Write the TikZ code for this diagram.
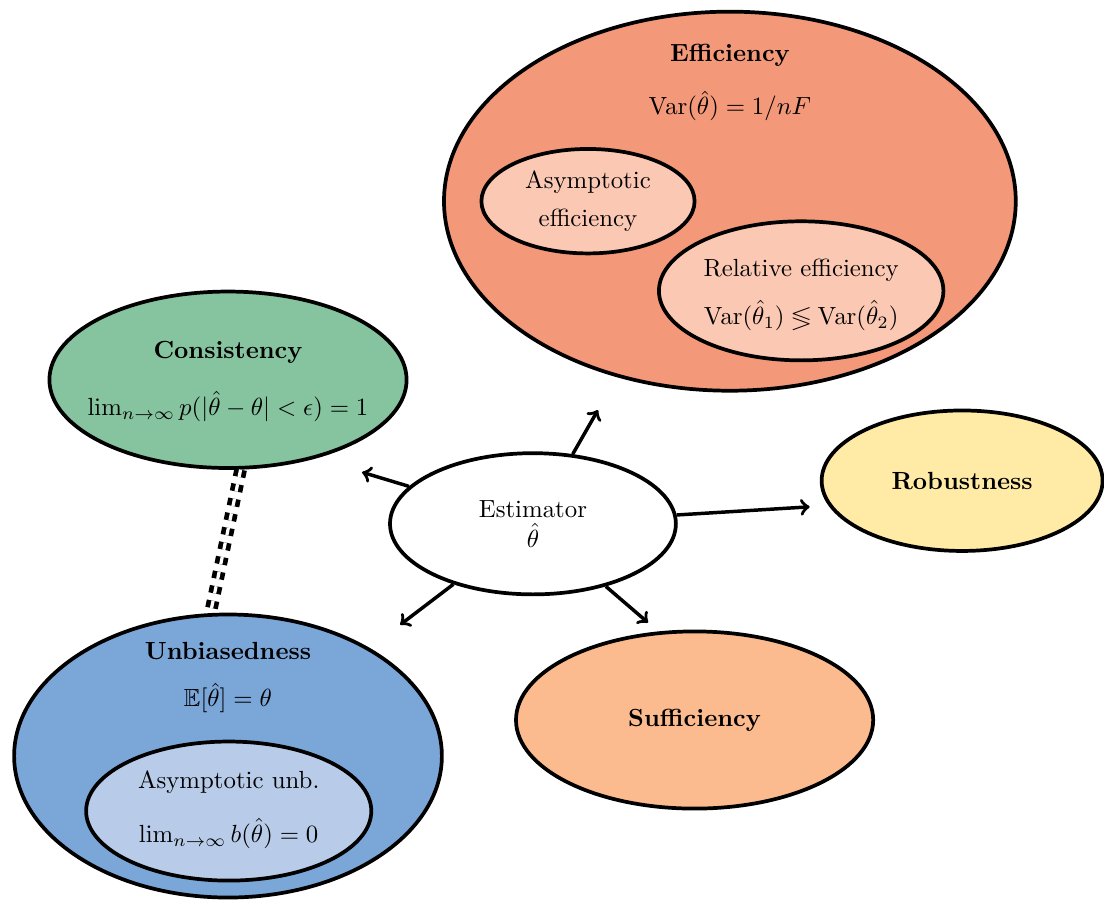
\documentclass[tikz,border=0pt]{standalone}
\usepackage{amssymb}
\usepackage{amsmath}
\usetikzlibrary{shapes.geometric}

\definecolor{effcol}{HTML}{F4987A}
\definecolor{efflight}{HTML}{FBC8B3}
\definecolor{conscol}{HTML}{86C39F}
\definecolor{unbcol}{HTML}{7BA6D8}
\definecolor{unblight}{HTML}{B8CCE9}
\definecolor{robcol}{HTML}{FFEBA5}
\definecolor{suffcol}{HTML}{FBBB8E}

\tikzset{
  prop/.style={ellipse, draw, line width=1.5pt, inner sep=0pt, align=center},
  link/.style={->, line width=1.4pt},
}

\begin{document}
\begin{tikzpicture}
\useasboundingbox (0,0) rectangle (15.64,-12.75);

%efficiency
\node[prop, fill=effcol, minimum width=8.1cm, minimum height=5.37cm] (eff) at (10.34,-2.85) {};
\node (efftitle) at (10.34,-0.78) {\textbf{Efficiency}};
\node (effeq) at (10.34,-1.50) {$\mathrm{Var}(\hat{\theta}) = 1/nF$};
\node[prop, fill=efflight, minimum width=3.02cm, minimum height=1.48cm] (asyeff) at (8.33,-2.85) {Asymptotic\\[3pt] efficiency};
\node[prop, fill=efflight, minimum width=4.03cm, minimum height=1.97cm] (releff) at (11.35,-4.12) {};
\node (reltitle) at (11.35,-3.83) {Relative efficiency};
\node (releq) at (11.35,-4.47) {$\mathrm{Var}(\hat{\theta}_1) \lessgtr \mathrm{Var}(\hat{\theta}_2)$};

%consistency
\node[prop, fill=conscol, minimum width=5.06cm, minimum height=2.5cm] (cons) at (3.23,-5.38) {};
\node (constitle) at (3.23,-4.99) {\textbf{Consistency}};
\node (conseq) at (3.23,-5.76) {$\lim_{n\to\infty} p(|\hat{\theta}-\theta| < \epsilon) = 1$};

%robustness
\node[prop, fill=robcol, minimum width=3.98cm, minimum height=1.99cm] (rob) at (13.63,-6.81) {\textbf{Robustness}};

%sufficiency
\node[prop, fill=suffcol, minimum width=5.06cm, minimum height=2.51cm] (suff) at (9.84,-10.2) {\textbf{Sufficiency}};

%unbiasedness
\node[prop, fill=unbcol, minimum width=6.06cm, minimum height=4.01cm] (unb) at (3.23,-10.71) {};
\node (unbtitle) at (3.23,-9.22) {\textbf{Unbiasedness}};
\node (unbeq) at (3.23,-9.89) {$\mathbb{E}[\hat{\theta}] = \theta$};
\node[prop, fill=unblight, minimum width=4.04cm, minimum height=1.97cm] (asyunb) at (3.24,-11.49) {};
\node (asyunbtitle) at (3.24,-11.08) {Asymptotic unb.};
\node (asyunbeq) at (3.24,-11.81) {$\lim_{n\to\infty} b(\hat{\theta}) = 0$};

%estimator
\node[prop, fill=white, minimum width=4.05cm, minimum height=2.0cm] (est) at (7.55,-7.42) {Estimator\\ $\hat{\theta}$};

%arrows
\coordinate (efftip) at (8.47,-5.81);
\coordinate (constip) at (5.13,-6.69);
\coordinate (robtip) at (11.47,-7.18);
\coordinate (unbtip) at (5.67,-8.85);
\coordinate (sufftip) at (9.18,-8.82);
\draw[link] (est) -- (efftip);
\draw[link] (est) -- (constip);
\draw[link] (est) -- (robtip);
\draw[link] (est) -- (unbtip);
\draw[link] (est) -- (sufftip);

\draw[line width=1.9pt, double distance=1.3pt, dashed] (cons.-82) -- (unb.97);
\end{tikzpicture}
\end{document}
